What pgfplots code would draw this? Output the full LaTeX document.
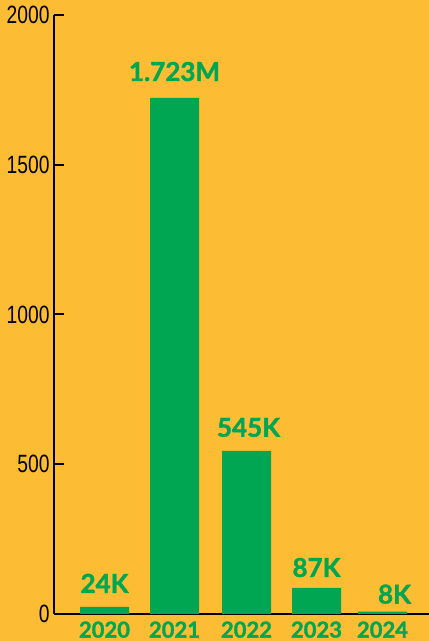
\documentclass[border=0pt]{standalone}
\usepackage{pgfplots}
\pgfplotsset{compat=1.18}
\usepackage{fontspec}
\setmainfont{Lato}[BoldFeatures={FakeBold=1.5}]
\newfontfamily\tickfont{Liberation Sans}
\definecolor{bg}{RGB}{252,188,51}
\definecolor{grn}{RGB}{0,166,81}
\begin{document}
\begin{tikzpicture}
\path[use as bounding box, fill=bg] (0,0) rectangle (429bp,641bp);
\begin{axis}[
  at={(54bp,27bp)}, anchor=south west, scale only axis,
  width=375bp, height=599bp,
  xmin=-50.5, xmax=324.5, ymin=0, ymax=2000,
  axis x line=bottom, axis y line=left,
  axis line style={line width=2bp, -},
  ytick={0,500,1000,1500,2000},
  tick align=inside, major tick length=10bp,
  y tick style={black, line width=2bp},
  xtick={0,70,142,212,278},
  xticklabels={2020,2021,2022,2023,2024},
  x tick style={draw=none},
  xticklabel style={font=\fontsize{22bp}{22bp}\selectfont\bfseries, text=grn, yshift=-4bp},
  yticklabel style={font=\fontsize{25bp}{25bp}\selectfont\tickfont, text=black, xshift=-1bp},
  yticklabel={\scalebox{0.77}[1]{\pgfmathprintnumber[assume math mode=true, 1000 sep={}]{\tick}}},
  clip=false,
]
\addplot[ybar, bar width=49bp, fill=grn, draw=none] coordinates {(0,24) (70,1723) (142,545) (212,87) (278,8)};
\begin{scope}[every node/.style={anchor=base, text=grn, font=\fontsize{26bp}{26bp}\selectfont\bfseries, inner sep=0pt}]
\node at ([yshift=14bp]axis cs:0,24) {24K};
\node at ([yshift=17bp]axis cs:70,1723) {1.723M};
\node at ([yshift=14bp, xshift=2bp]axis cs:142,545) {545K};
\node at ([yshift=11bp]axis cs:212,87) {87K};
\node at ([yshift=8bp, xshift=12bp]axis cs:278,8) {8K};
\end{scope}
\end{axis}
\end{tikzpicture}
\end{document}
